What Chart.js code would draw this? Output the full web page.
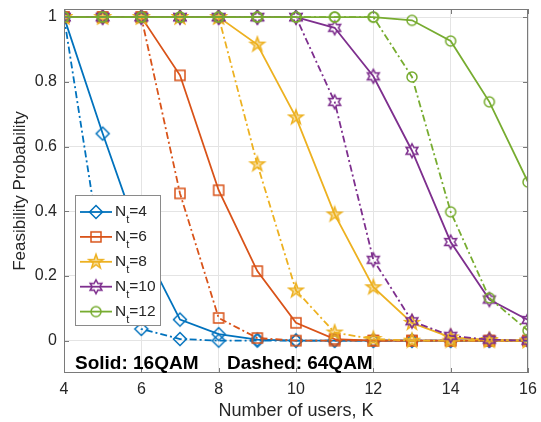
<!DOCTYPE html>
<html>
<head>
<meta charset="utf-8">
<script src="https://cdn.jsdelivr.net/npm/chart.js@4"></script>
<style>
  html, body { margin: 0; padding: 0; background: #fff; }
  #wrap { width: 541px; height: 422px; position: relative; }
</style>
</head>
<body>
<div id="wrap"><canvas id="c"></canvas></div>
<script>
// Feasibility probability vs number of users · solid = 16QAM, dashed = 64QAM

const users = [4, 5, 6, 7, 8, 9, 10, 11, 12, 13, 14, 15, 16];

const nt4Solid   = [1, 0.64, 0.30, 0.065, 0.02, 0.003, 0, 0, 0, 0, 0, 0, 0];
const nt4Dashed  = [1, 0.24, 0.036, 0.005, 0, 0, 0, 0, 0, 0, 0, 0, 0];
const nt6Solid   = [1, 1, 1, 0.82, 0.465, 0.215, 0.055, 0.005, 0, 0, 0, 0, 0];
const nt6Dashed  = [1, 1, 1, 0.455, 0.07, 0.008, 0, 0, 0, 0, 0, 0, 0];
const nt8Solid   = [1, 1, 1, 1, 1, 0.915, 0.69, 0.39, 0.165, 0.055, 0.01, 0.002, 0];
const nt8Dashed  = [1, 1, 1, 1, 1, 0.545, 0.155, 0.025, 0.005, 0, 0, 0, 0];
const nt10Solid  = [1, 1, 1, 1, 1, 1, 1, 0.967, 0.817, 0.587, 0.305, 0.127, 0.064];
const nt10Dashed = [1, 1, 1, 1, 1, 1, 1, 0.738, 0.25, 0.06, 0.015, 0.003, 0];
const nt12Solid  = [1, 1, 1, 1, 1, 1, 1, 1, 1, 0.99, 0.926, 0.738, 0.49];
const nt12Dashed = [1, 1, 1, 1, 1, 1, 1, 1, 1, 0.815, 0.398, 0.132, 0.031];

const ntValues    = ['4', '6', '8', '10', '12'];
const xTicks      = [4, 6, 8, 10, 12, 14, 16];
const yTicks      = [0, 0.2, 0.4, 0.6, 0.8, 1];
const yTickLabels = ['0', '0.2', '0.4', '0.6', '0.8', '1'];
const xTitle      = 'Number of users, K';
const yTitle      = 'Feasibility Probability';
const noteSolid   = 'Solid: 16QAM';
const noteDashed  = 'Dashed: 64QAM';

const COLORS  = ['#0072BD', '#D95319', '#EDB120', '#7E2F8E', '#77AC30'];
const MARKERS = ['diamond', 'square', 'star', 'hexagram', 'circle'];
const TEXT    = '#262626';
const AXIS    = '#7a7a7a';
const GRID    = '#e4e4e4';
const FONT    = '"Liberation Sans", Arial, Helvetica, sans-serif';
const DASH    = [7, 3, 2, 3];

// marcadores estilo MATLAB, huecos, dibujados en un canvas pequeño
function marker(shape, color) {
  const s = 20;
  const c = document.createElement('canvas');
  c.width = c.height = s;
  const g = c.getContext('2d');
  g.translate(s / 2, s / 2);
  g.strokeStyle = color;
  g.lineWidth = 1.5;
  g.beginPath();
  if (shape === 'diamond') {
    g.moveTo(0, -6.5); g.lineTo(6.5, 0); g.lineTo(0, 6.5); g.lineTo(-6.5, 0); g.closePath();
  } else if (shape === 'square') {
    g.rect(-5, -5, 10, 10);
  } else if (shape === 'circle') {
    g.arc(0, 0, 5, 0, Math.PI * 2);
  } else if (shape === 'star') {
    for (let i = 0; i < 10; i++) {
      const r = i % 2 ? 3 : 7.5;
      const a = -Math.PI / 2 + i * Math.PI / 5;
      i ? g.lineTo(r * Math.cos(a), r * Math.sin(a)) : g.moveTo(r * Math.cos(a), r * Math.sin(a));
    }
    g.closePath();
    g.fillStyle = color;
    g.globalAlpha = 0.45;
    g.fill();
    g.globalAlpha = 1;
  } else if (shape === 'hexagram') {
    for (let i = 0; i < 12; i++) {
      const r = i % 2 ? 3.8 : 6.8;
      const a = -Math.PI / 2 + i * Math.PI / 6;
      i ? g.lineTo(r * Math.cos(a), r * Math.sin(a)) : g.moveTo(r * Math.cos(a), r * Math.sin(a));
    }
    g.closePath();
  }
  g.stroke();
  return c;
}

const markerImgs = MARKERS.map((m, i) => marker(m, COLORS[i]));

const series = [
  [nt4Solid, nt4Dashed],
  [nt6Solid, nt6Dashed],
  [nt8Solid, nt8Dashed],
  [nt10Solid, nt10Dashed],
  [nt12Solid, nt12Dashed],
];

const datasets = [];
series.forEach((pair, i) => {
  pair.forEach((vals, j) => {
    datasets.push({
      label: 'N_t=' + ntValues[i] + (j ? ' 64QAM' : ' 16QAM'),
      data: users.map((k, n) => ({ x: k, y: vals[n] })),
      borderColor: COLORS[i],
      borderWidth: 1.8,
      borderDash: j ? DASH : [],
      pointStyle: markerImgs[i],
      pointRadius: 5,
      fill: false,
      tension: 0,
      order: -datasets.length,
    });
  });
});

// caja, ticks interiores, leyenda y nota
const matlabDecor = {
  id: 'matlabDecor',
  afterDraw(chart) {
    const { ctx, chartArea: a, scales: { x, y } } = chart;
    ctx.save();

    ctx.strokeStyle = AXIS;
    ctx.lineWidth = 1;
    ctx.strokeRect(a.left + 0.5, a.top + 0.5, a.right - a.left - 1, a.bottom - a.top - 1);
    ctx.beginPath();
    xTicks.forEach(v => {
      const px = Math.round(x.getPixelForValue(v)) + 0.5;
      ctx.moveTo(px, a.bottom); ctx.lineTo(px, a.bottom - 5);
      ctx.moveTo(px, a.top); ctx.lineTo(px, a.top + 5);
    });
    yTicks.forEach(v => {
      const py = Math.round(y.getPixelForValue(v)) + 0.5;
      ctx.moveTo(a.left, py); ctx.lineTo(a.left + 5, py);
      ctx.moveTo(a.right, py); ctx.lineTo(a.right - 5, py);
    });
    ctx.stroke();

    // leyenda
    const lx = 75, ly = 195, lw = 85, lh = 130;
    ctx.fillStyle = '#fff';
    ctx.fillRect(lx, ly, lw, lh);
    ctx.strokeStyle = '#8a8a8a';
    ctx.strokeRect(lx + 0.5, ly + 0.5, lw, lh);
    ntValues.forEach((v, i) => {
      const ry = 212 + i * 24.9;
      ctx.strokeStyle = COLORS[i];
      ctx.lineWidth = 1.8;
      ctx.setLineDash([]);
      ctx.beginPath();
      ctx.moveTo(80, ry); ctx.lineTo(112, ry);
      ctx.stroke();
      ctx.drawImage(markerImgs[i], 96 - 10, ry - 10);
      ctx.fillStyle = TEXT;
      ctx.textBaseline = 'alphabetic';
      ctx.textAlign = 'left';
      ctx.font = '15.5px ' + FONT;
      ctx.fillText('N', 115, ry + 4);
      const nw = ctx.measureText('N').width;
      ctx.font = '11px ' + FONT;
      ctx.fillText('t', 115 + nw, ry + 11);
      const tw = ctx.measureText('t').width;
      ctx.font = '15.5px ' + FONT;
      ctx.fillText('=' + v, 115 + nw + tw, ry + 4);
    });

    // nota de estilos de línea
    ctx.fillStyle = '#000';
    ctx.font = 'bold 19px ' + FONT;
    ctx.fillText(noteSolid, 75, 369);
    ctx.fillText(noteDashed, 227, 369);

    ctx.restore();
  },
};

new Chart(document.getElementById('c'), {
  type: 'line',
  data: { datasets },
  plugins: [matlabDecor],
  options: {
    responsive: true,
    maintainAspectRatio: false,
    animation: false,
    events: [],
    layout: { padding: { top: 9, right: 13, left: 0, bottom: 0 } },
    plugins: { legend: { display: false }, tooltip: { enabled: false } },
    scales: {
      x: {
        type: 'linear',
        min: 4,
        max: 16,
        afterBuildTicks: s => { s.ticks = xTicks.map(v => ({ value: v })); },
        afterFit: s => { s.height = 49; s.paddingLeft = 0; s.paddingRight = 0; },
        grid: { color: GRID, drawTicks: false },
        border: { display: false },
        ticks: { color: TEXT, font: { family: FONT, size: 16 }, padding: 7, maxRotation: 0 },
        title: {
          display: true, text: xTitle, color: TEXT,
          font: { family: FONT, size: 18 }, padding: { top: 0, bottom: 0 },
        },
      },
      y: {
        type: 'linear',
        min: -0.1,
        max: 1.025,
        afterBuildTicks: s => { s.ticks = yTicks.map(v => ({ value: v })); },
        afterFit: s => { s.width = 64; s.paddingTop = 0; s.paddingBottom = 0; },
        grid: { color: GRID, drawTicks: false },
        border: { display: false },
        ticks: {
          color: TEXT, font: { family: FONT, size: 16 }, padding: 7,
          callback: v => yTickLabels[yTicks.indexOf(v)] ?? '',
        },
        title: {
          display: true, text: yTitle, color: TEXT,
          font: { family: FONT, size: 17 }, padding: { top: 10, bottom: 0 },
        },
      },
    },
  },
});
</script>
</body>
</html>
